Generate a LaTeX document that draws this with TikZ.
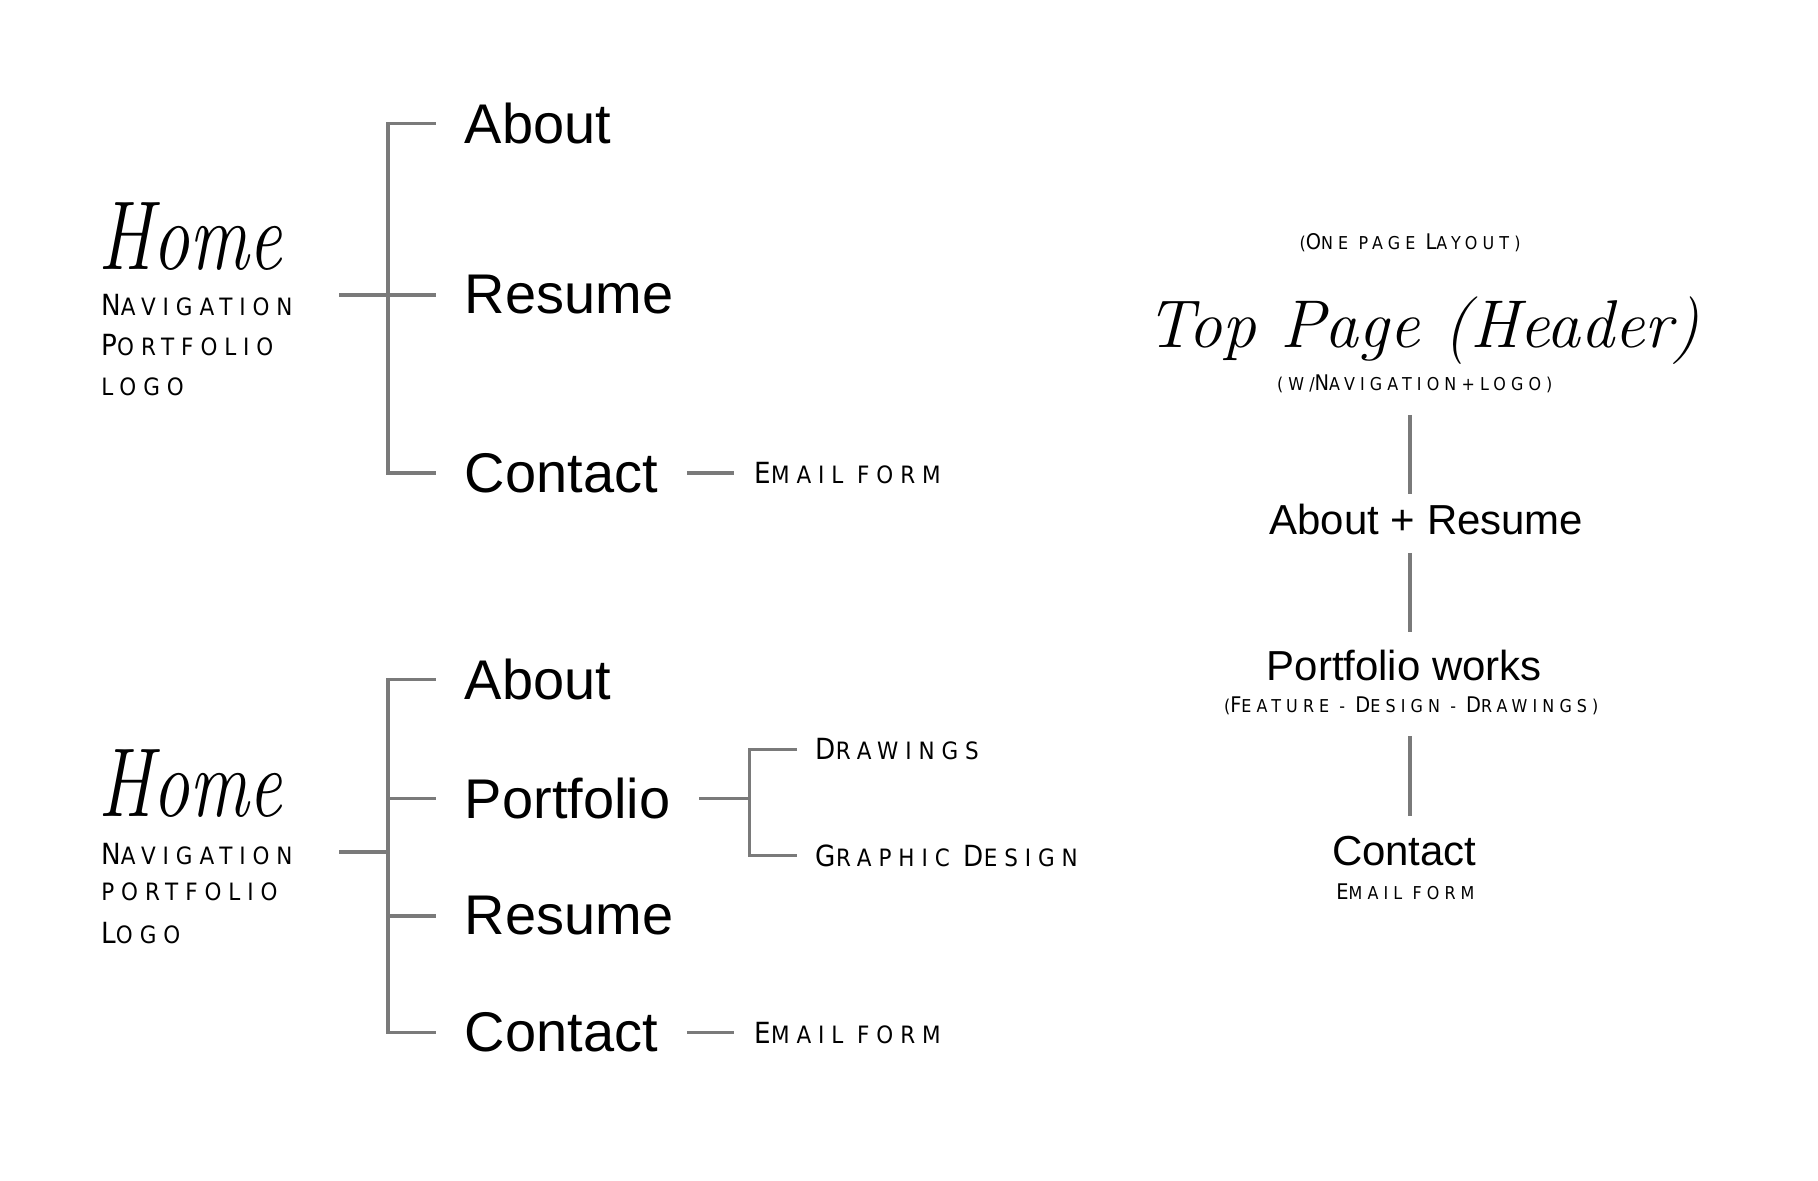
\documentclass[tikz,border=0pt]{standalone}
\usepackage{fontspec}
\usepackage{graphicx}
\usetikzlibrary{positioning}
\newfontfamily\itemfont{Liberation Sans}
\newfontfamily\capsfont[LetterSpace=29]{DejaVu Sans Condensed}
\definecolor{linegray}{HTML}{7A7A7A}
\newcommand\bc[1]{{\fontsize{25}{25}\selectfont #1}}
\newcommand\nbc[1]{{\fontsize{18.5}{18.5}\selectfont #1}}
\newcommand\hometext{\scalebox{0.76}[1]{\itshape\fontsize{84}{84}\selectfont Home}}
\tikzset{
	link/.style={draw=linegray, line width=3pt},
	item/.style={font=\itemfont\fontsize{48}{48}\selectfont, inner sep=0pt, outer xsep=25pt},
	rightitem/.style={font=\itemfont\fontsize{36}{36}\selectfont, inner sep=0pt},
	sub/.style={font=\capsfont\fontsize{20.5}{20.5}\selectfont, inner sep=0pt, outer xsep=18pt},
	note/.style={font=\capsfont\fontsize{15.2}{15.2}\selectfont, inner sep=0pt},
	hand/.style={inner sep=0pt},
}
\begin{document}
\begin{tikzpicture}[x=1pt, y=-1pt]
		\useasboundingbox (0,0) rectangle (1560,1013);
		% multi page site
		\node (home1)[hand, anchor = base west] at (84,231){\hometext};
		\node (nav1)[sub, outer xsep=0pt, anchor = base west] at (87,271){\bc{N}AVIGATION};
		\node (port1)[sub, outer xsep=0pt, anchor = base west] at (87,305){\bc{P}ORTFOLIO};
		\node (logo1)[sub, outer xsep=0pt, anchor = base west] at (87,339){LOGO};
		\node (about1)[item, anchor = west] at (374,106){About};
		\node (resume1)[item, anchor = west] at (374,253){Resume};
		\node (contact1)[item, anchor = west] at (374,406){Contact};
		\node (email1)[sub, right = 40pt of contact1]{\bc{E}MAIL FORM};
		\coordinate (spine1) at (333,253);
		\coordinate (stem1) at (291,253);
		\draw[link] (about1.west) -| (spine1) |- (contact1.west);
		\draw[link] (stem1) -- (resume1.west);
		\draw[link] (contact1.east) -- (email1.west);
		%
		\node (home2)[hand, anchor = base west] at (84,701){\hometext};
		\node (nav2)[sub, outer xsep=0pt, anchor = base west] at (87,742){\bc{N}AVIGATION};
		\node (port2)[sub, outer xsep=0pt, anchor = base west] at (87,773){PORTFOLIO};
		\node (logo2)[sub, outer xsep=0pt, anchor = base west] at (87,810){\bc{L}OGO};
		\node (about2)[item, anchor = west] at (374,583){About};
		\node (folio2)[item, anchor = west] at (374,685){Portfolio};
		\node (resume2)[item, anchor = west] at (374,786){Resume};
		\node (contact2)[item, anchor = west] at (374,886){Contact};
		\node (email2)[sub, right = 40pt of contact2]{\bc{E}MAIL FORM};
		\coordinate (spine2) at (333,731);
		\coordinate (stem2) at (291,731);
		\draw[link] (about2.west) -| (spine2) |- (contact2.west);
		\draw[link] (spine2 |- folio2.west) -- (folio2.west);
		\draw[link] (spine2 |- resume2.west) -- (resume2.west);
		\draw[link] (stem2) -- (spine2);
		\draw[link] (contact2.east) -- (email2.west);
		\node (draw2)[sub, outer xsep=16pt, anchor = west] at (684,643){\bc{D}RAWINGS};
		\node (graph2)[sub, outer xsep=16pt, anchor = west] at (684,734){\bc{G}RAPHIC \bc{D}ESIGN};
		\coordinate (fork2) at (643,685);
		\draw[link] (draw2.west) -| (fork2) |- (graph2.west);
		\draw[link] (folio2.east) -- (fork2);
		%
		% one page layout
		\node (layout)[note] at (1210,208){(\nbc{O}NE PAGE \nbc{L}AYOUT)};
		\node (top)[hand, anchor = base] at (1221,298){\itshape\fontsize{58}{58}\selectfont Top Page (Header)};
		\node (wnav)[note] at (1214,329){(W/\nbc{N}AVIGATION+LOGO)};
		\node (abres)[rightitem] at (1224,446){About + Resume};
		\node (works)[rightitem] at (1205,571){Portfolio works};
		\node (feat)[note] at (1211,606){(\nbc{F}EATURE - \nbc{D}ESIGN - \nbc{D}RAWINGS)};
		\node (contact3)[rightitem] at (1205,730){Contact};
		\node (email3)[note] at (1206,765){\nbc{E}MAIL FORM};
		\coordinate (axis) at (1210,0);
		\draw[link, shorten <=19pt, shorten >=9pt] (wnav.south -| axis) -- (abres.north -| axis);
		\draw[link, shorten <=15pt, shorten >=15pt] (abres.south -| axis) -- (works.north -| axis);
		\draw[link, shorten <=18pt, shorten >=17pt] (feat.south -| axis) -- (contact3.north -| axis);
	\end{tikzpicture}
\end{document}
